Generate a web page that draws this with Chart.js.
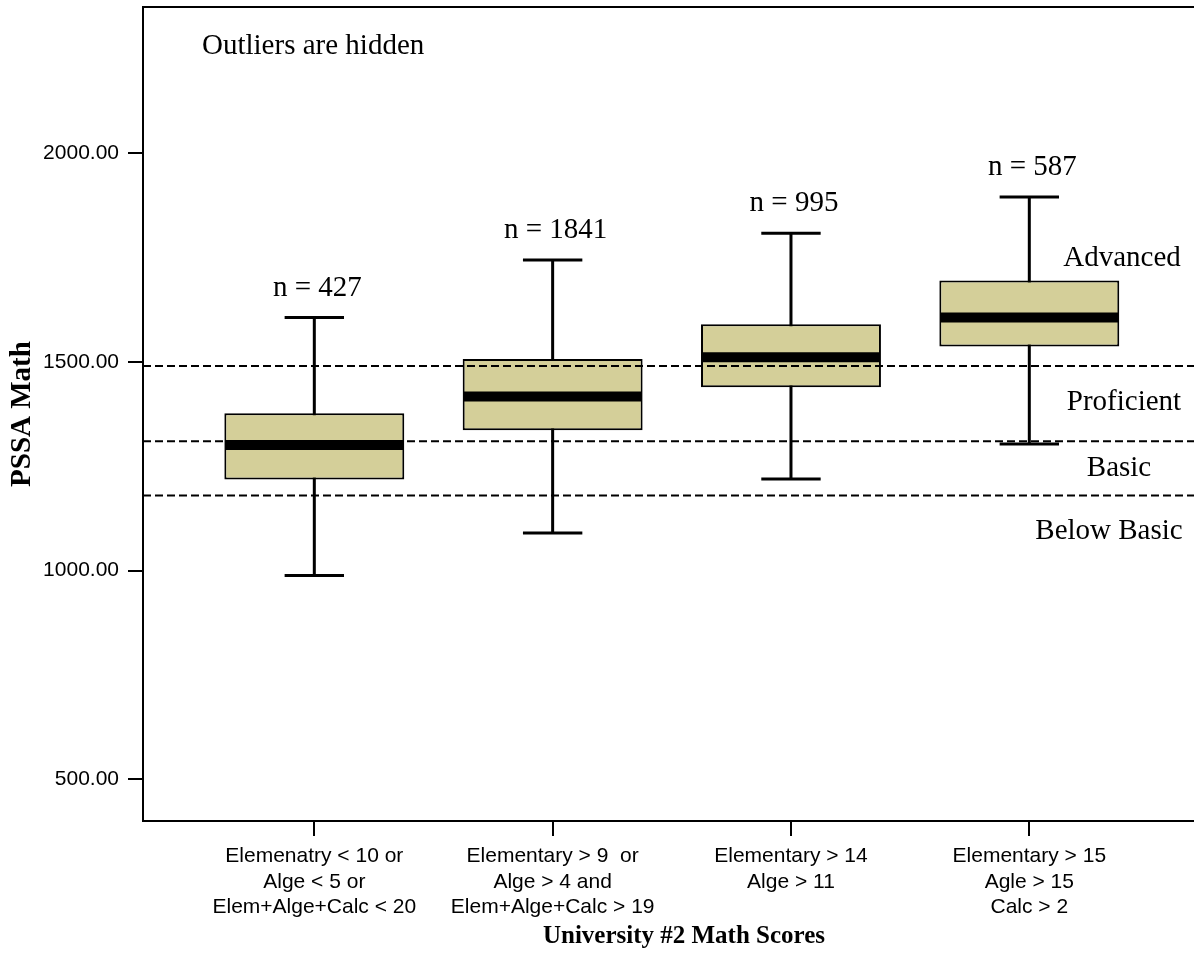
<!DOCTYPE html>
<html><head><meta charset="utf-8">
<script src="https://cdn.jsdelivr.net/npm/chart.js@4.4.1/dist/chart.umd.min.js"></script>
<style>html,body{margin:0;padding:0;background:#fff;} canvas{display:block;}</style>
</head><body>
<canvas id="c" width="1194" height="954"></canvas>
<script>
const categories = [
  ["Elemenatry < 10 or", "Alge < 5 or", "Elem+Alge+Calc < 20"],
  ["Elementary > 9  or", "Alge > 4 and", "Elem+Alge+Calc > 19"],
  ["Elementary > 14", "Alge > 11"],
  ["Elementary > 15", "Agle > 15", "Calc > 2"]
];
const whiskerLow  = [988, 1090, 1219, 1303];
const q1          = [1218, 1336, 1439, 1537];
const median      = [1301, 1417, 1511, 1606];
const q3          = [1377, 1507, 1590, 1695];
const whiskerHigh = [1606, 1744, 1808, 1895];
const counts      = [427, 1841, 995, 587];
const levelCutoffs = [1490, 1310, 1180];
const levelNames  = ["Advanced", "Proficient", "Basic", "Below Basic"];
const yTicks      = [500, 1000, 1500, 2000];
const noteText    = "Outliers are hidden";
const xTitle      = "University #2 Math Scores";
const yTitle      = "PSSA Math";

const X_MIN = 0.2812, X_MAX = 4.691;
const SERIF = "'Liberation Serif', 'Times New Roman', serif";
const SANS = "'Liberation Sans', Arial, sans-serif";

function boxMeta(chart) {
  return chart.getDatasetMeta(chart.data.datasets.length - 1);
}

const extras = {
  id: 'boxExtras',
  beforeDatasetsDraw(chart) {
    const ctx = chart.ctx, ys = chart.scales.y;
    ctx.save();
    ctx.strokeStyle = '#000';
    ctx.lineWidth = 3;
    ctx.lineCap = 'butt';
    ctx.setLineDash([]);
    boxMeta(chart).data.forEach((bar, i) => {
      const {x, width} = bar.getProps(['x', 'width'], true);
      const cap = width * 0.165;
      const yH = ys.getPixelForValue(whiskerHigh[i]);
      const yL = ys.getPixelForValue(whiskerLow[i]);
      ctx.beginPath();
      ctx.moveTo(x, yH); ctx.lineTo(x, yL);
      ctx.moveTo(x - cap, yH); ctx.lineTo(x + cap, yH);
      ctx.moveTo(x - cap, yL); ctx.lineTo(x + cap, yL);
      ctx.stroke();
    });
    ctx.restore();
  },
  afterDatasetsDraw(chart) {
    const ctx = chart.ctx, ys = chart.scales.y;
    ctx.save();
    ctx.strokeStyle = '#000';
    ctx.fillStyle = '#000';
    ctx.setLineDash([]);
    boxMeta(chart).data.forEach((bar, i) => {
      const {x, width} = bar.getProps(['x', 'width'], true);
      const half = width / 2;
      const yH = ys.getPixelForValue(whiskerHigh[i]);
      const yM = ys.getPixelForValue(median[i]);
      ctx.lineWidth = 10;
      ctx.beginPath();
      ctx.moveTo(x - half + 1, yM); ctx.lineTo(x + half - 1, yM);
      ctx.stroke();
      ctx.font = '29px ' + SERIF;
      ctx.textAlign = 'center';
      ctx.textBaseline = 'alphabetic';
      ctx.fillText('n = ' + counts[i], x + 3, yH - 22);
    });
    ctx.restore();
  },
  afterDraw(chart) {
    const ctx = chart.ctx, a = chart.chartArea, ys = chart.scales.y;
    ctx.save();
    ctx.strokeStyle = '#000';
    ctx.lineWidth = 2;
    ctx.beginPath();
    ctx.moveTo(a.left, a.top); ctx.lineTo(a.right, a.top);
    ctx.stroke();
    ctx.fillStyle = '#000';
    ctx.font = '29px ' + SERIF;
    ctx.textBaseline = 'alphabetic';
    ctx.textAlign = 'left';
    ctx.fillText(noteText, a.left + 59, a.top + 47);
    ctx.textAlign = 'center';
    const c0 = ys.getPixelForValue(levelCutoffs[0]);
    const c1 = ys.getPixelForValue(levelCutoffs[1]);
    const c2 = ys.getPixelForValue(levelCutoffs[2]);
    ctx.fillText(levelNames[0], a.right - 72, c0 - 100);
    ctx.fillText(levelNames[1], a.right - 70, (c0 + c1) / 2 + 6);
    ctx.fillText(levelNames[2], a.right - 75, (c1 + c2) / 2 + 7.5);
    ctx.fillText(levelNames[3], a.right - 85, c2 + 43.5);
    ctx.font = 'bold 25px ' + SERIF;
    ctx.fillText(xTitle, 684, 943);
    ctx.restore();
  }
};

const lineSets = levelCutoffs.map(c => ({
  type: 'line',
  data: [{x: X_MIN, y: c}, {x: X_MAX, y: c}],
  borderColor: '#000',
  borderWidth: 2,
  borderDash: [8, 4],
  pointRadius: 0,
  fill: false,
  order: 0
}));

new Chart(document.getElementById('c'), {
  type: 'bar',
  data: {
    datasets: [
      ...lineSets,
      {
        type: 'bar',
        data: q1.map((v, i) => ({x: i + 1, y: [v, q3[i]]})),
        backgroundColor: '#d4cf99',
        borderColor: '#000',
        borderWidth: 2,
        borderSkipped: false,
        categoryPercentage: 1,
        barPercentage: 0.755,
        order: 1
      }
    ]
  },
  options: {
    responsive: false,
    animation: false,
    devicePixelRatio: 1,
    layout: {padding: {top: 7, right: 0, bottom: 0, left: 0}},
    plugins: {legend: {display: false}, tooltip: {enabled: false}},
    scales: {
      x: {
        type: 'linear', min: X_MIN, max: X_MAX, offset: false,
        afterBuildTicks: s => { s.ticks = categories.map((c, i) => ({value: i + 1})); },
        ticks: {
          autoSkip: false, maxRotation: 0, minRotation: 0, padding: 8, color: '#000',
          font: {family: SANS, size: 21, lineHeight: 1.2},
          callback: v => categories[Math.round(v) - 1]
        },
        grid: {display: true, offset: false, drawOnChartArea: false, drawTicks: true, tickLength: 15, color: '#000', lineWidth: 2},
        border: {display: true, color: '#000', width: 2},
        afterFit: s => { s.height = 133; s.paddingLeft = 0; s.paddingRight = 0; }
      },
      y: {
        type: 'linear', min: 400, max: 2350,
        afterBuildTicks: s => { s.ticks = yTicks.map(v => ({value: v})); },
        ticks: {padding: 9, color: '#000', font: {family: SANS, size: 21}, callback: v => Number(v).toFixed(2)},
        grid: {display: true, offset: false, drawOnChartArea: false, drawTicks: true, tickLength: 15, color: '#000', lineWidth: 2},
        border: {display: true, color: '#000', width: 2},
        title: {display: true, text: yTitle, color: '#000', font: {family: SERIF, size: 29, weight: 'bold', lineHeight: 1.2}, padding: {top: 5, bottom: 0}},
        afterFit: s => { s.width = 143; s.paddingTop = 0; s.paddingBottom = 0; }
      }
    }
  },
  plugins: [extras]
});
</script>
</body></html>
